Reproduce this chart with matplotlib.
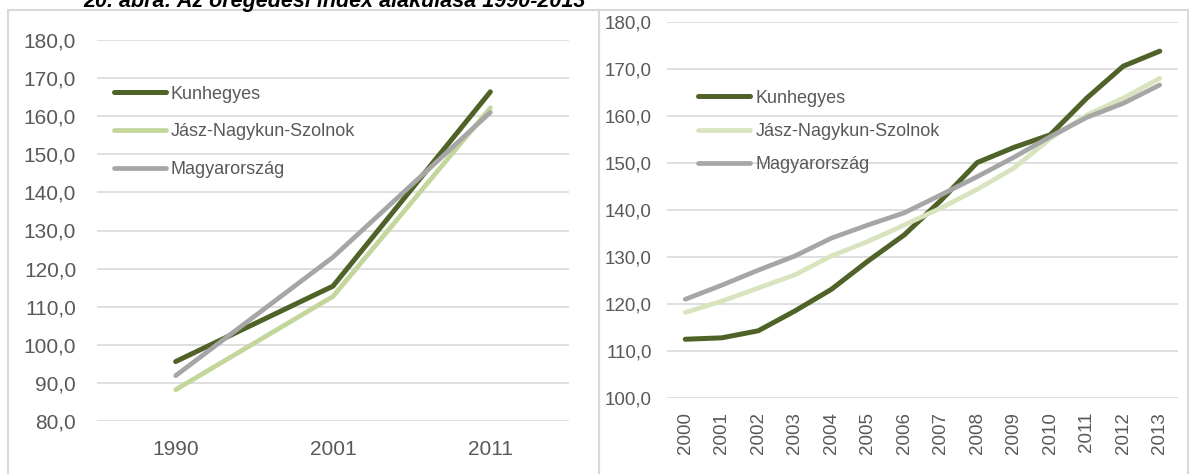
import matplotlib
matplotlib.use("Agg")
import matplotlib.pyplot as plt
from matplotlib.patches import Rectangle

plt.rcParams["font.family"] = ["Liberation Sans", "DejaVu Sans"]

# Census years (left) and yearly series (right)
years_census = ["1990", "2001", "2011"]
kun_census = [95.6, 115.4, 166.4]
jnsz_census = [88.2, 112.7, 162.2]
hu_census = [91.9, 123.0, 161.0]

years = [str(y) for y in range(2000, 2014)]
kun = [112.5, 112.8, 114.3, 118.5, 123.1, 129.1, 134.7, 142.0,
       150.1, 153.3, 156.0, 163.8, 170.6, 173.8]
jnsz = [118.2, 120.6, 123.4, 126.2, 130.2, 133.3, 136.8, 140.4,
        144.4, 148.9, 155.2, 160.2, 163.8, 168.0]
hu = [121.0, 124.0, 127.2, 130.2, 134.0, 136.8, 139.4, 143.2,
      147.1, 151.2, 155.6, 159.7, 162.7, 166.6]

labels = ["Kunhegyes", "Jász-Nagykun-Szolnok", "Magyarország"]
DARK = "#4F6228"
GREY = "#A6A6A6"
TXT = "#595959"
GRID = "#D9D9D9"

W, H = 1192, 474
fig = plt.figure(figsize=(W / 100, H / 100), dpi=100)

# panel frames
for x0, x1 in [(8, 599), (599, 1188)]:
    fig.add_artist(Rectangle((x0 / W, -0.05), (x1 - x0) / W, 1.05 - 10 / H,
                             transform=fig.transFigure, fill=False,
                             edgecolor=GRID, lw=1.5))

fig.text(335 / W, 1 - 7 / H, "20. ábra: Az öregedési index alakulása 1990-2013",
         ha="center", va="baseline", fontsize=15.5, fontweight="bold",
         fontstyle="italic")


def style(ax, ylim, step, fs):
    ax.set_ylim(*ylim)
    ax.set_yticks(range(ylim[0], ylim[1] + 1, step))
    ax.yaxis.set_major_formatter(plt.FuncFormatter(lambda v, p: f"{v:.1f}".replace(".", ",")))
    ax.grid(axis="y", color=GRID, lw=1.2)
    ax.set_axisbelow(True)
    for s in ax.spines.values():
        s.set_visible(False)
    ax.tick_params(length=0, colors=TXT, labelsize=fs)


# left: census years
ax1 = fig.add_axes([97 / W, 1 - 421 / H, 472 / W, 381 / H])
xs = range(len(years_census))
ax1.plot(xs, kun_census, color=DARK, lw=3.6, solid_capstyle="round", label=labels[0])
ax1.plot(xs, jnsz_census, color="#C3D69B", lw=3.4, solid_capstyle="round", label=labels[1])
ax1.plot(xs, hu_census, color=GREY, lw=3.4, solid_capstyle="round", label=labels[2])
ax1.set_xlim(-0.5, len(years_census) - 0.5)
ax1.set_xticks(list(xs))
ax1.set_xticklabels(years_census)
style(ax1, (80, 180), 10, 15)
ax1.tick_params(axis="y", pad=15)
ax1.tick_params(axis="x", pad=14)
ax1.legend(loc="upper left", bbox_to_anchor=(0.035, 0.88), frameon=False,
           fontsize=13, handlelength=2.9, handletextpad=0.25, labelspacing=1.14,
           labelcolor=TXT, borderaxespad=0, borderpad=0)

# right: yearly series
ax2 = fig.add_axes([667 / W, 1 - 398 / H, 511 / W, 376 / H])
xs = range(len(years))
ax2.plot(xs, kun, color=DARK, lw=3.6, solid_capstyle="round", label=labels[0])
ax2.plot(xs, jnsz, color="#D7E4BD", lw=3.4, solid_capstyle="round", label=labels[1])
ax2.plot(xs, hu, color=GREY, lw=3.4, solid_capstyle="round", label=labels[2])
ax2.set_xlim(-0.5, len(years) - 0.5)
ax2.set_xticks(list(xs))
ax2.set_xticklabels(years, rotation=90)
style(ax2, (100, 180), 10, 13.5)
ax2.tick_params(axis="y", pad=11)
ax2.tick_params(axis="x", pad=10)
ax2.legend(loc="upper left", bbox_to_anchor=(0.06, 0.82), frameon=False,
           fontsize=13, handlelength=2.9, handletextpad=0.3, labelspacing=0.9,
           labelcolor=TXT, borderaxespad=0, borderpad=0)

fig.savefig("out.png", dpi=100)
